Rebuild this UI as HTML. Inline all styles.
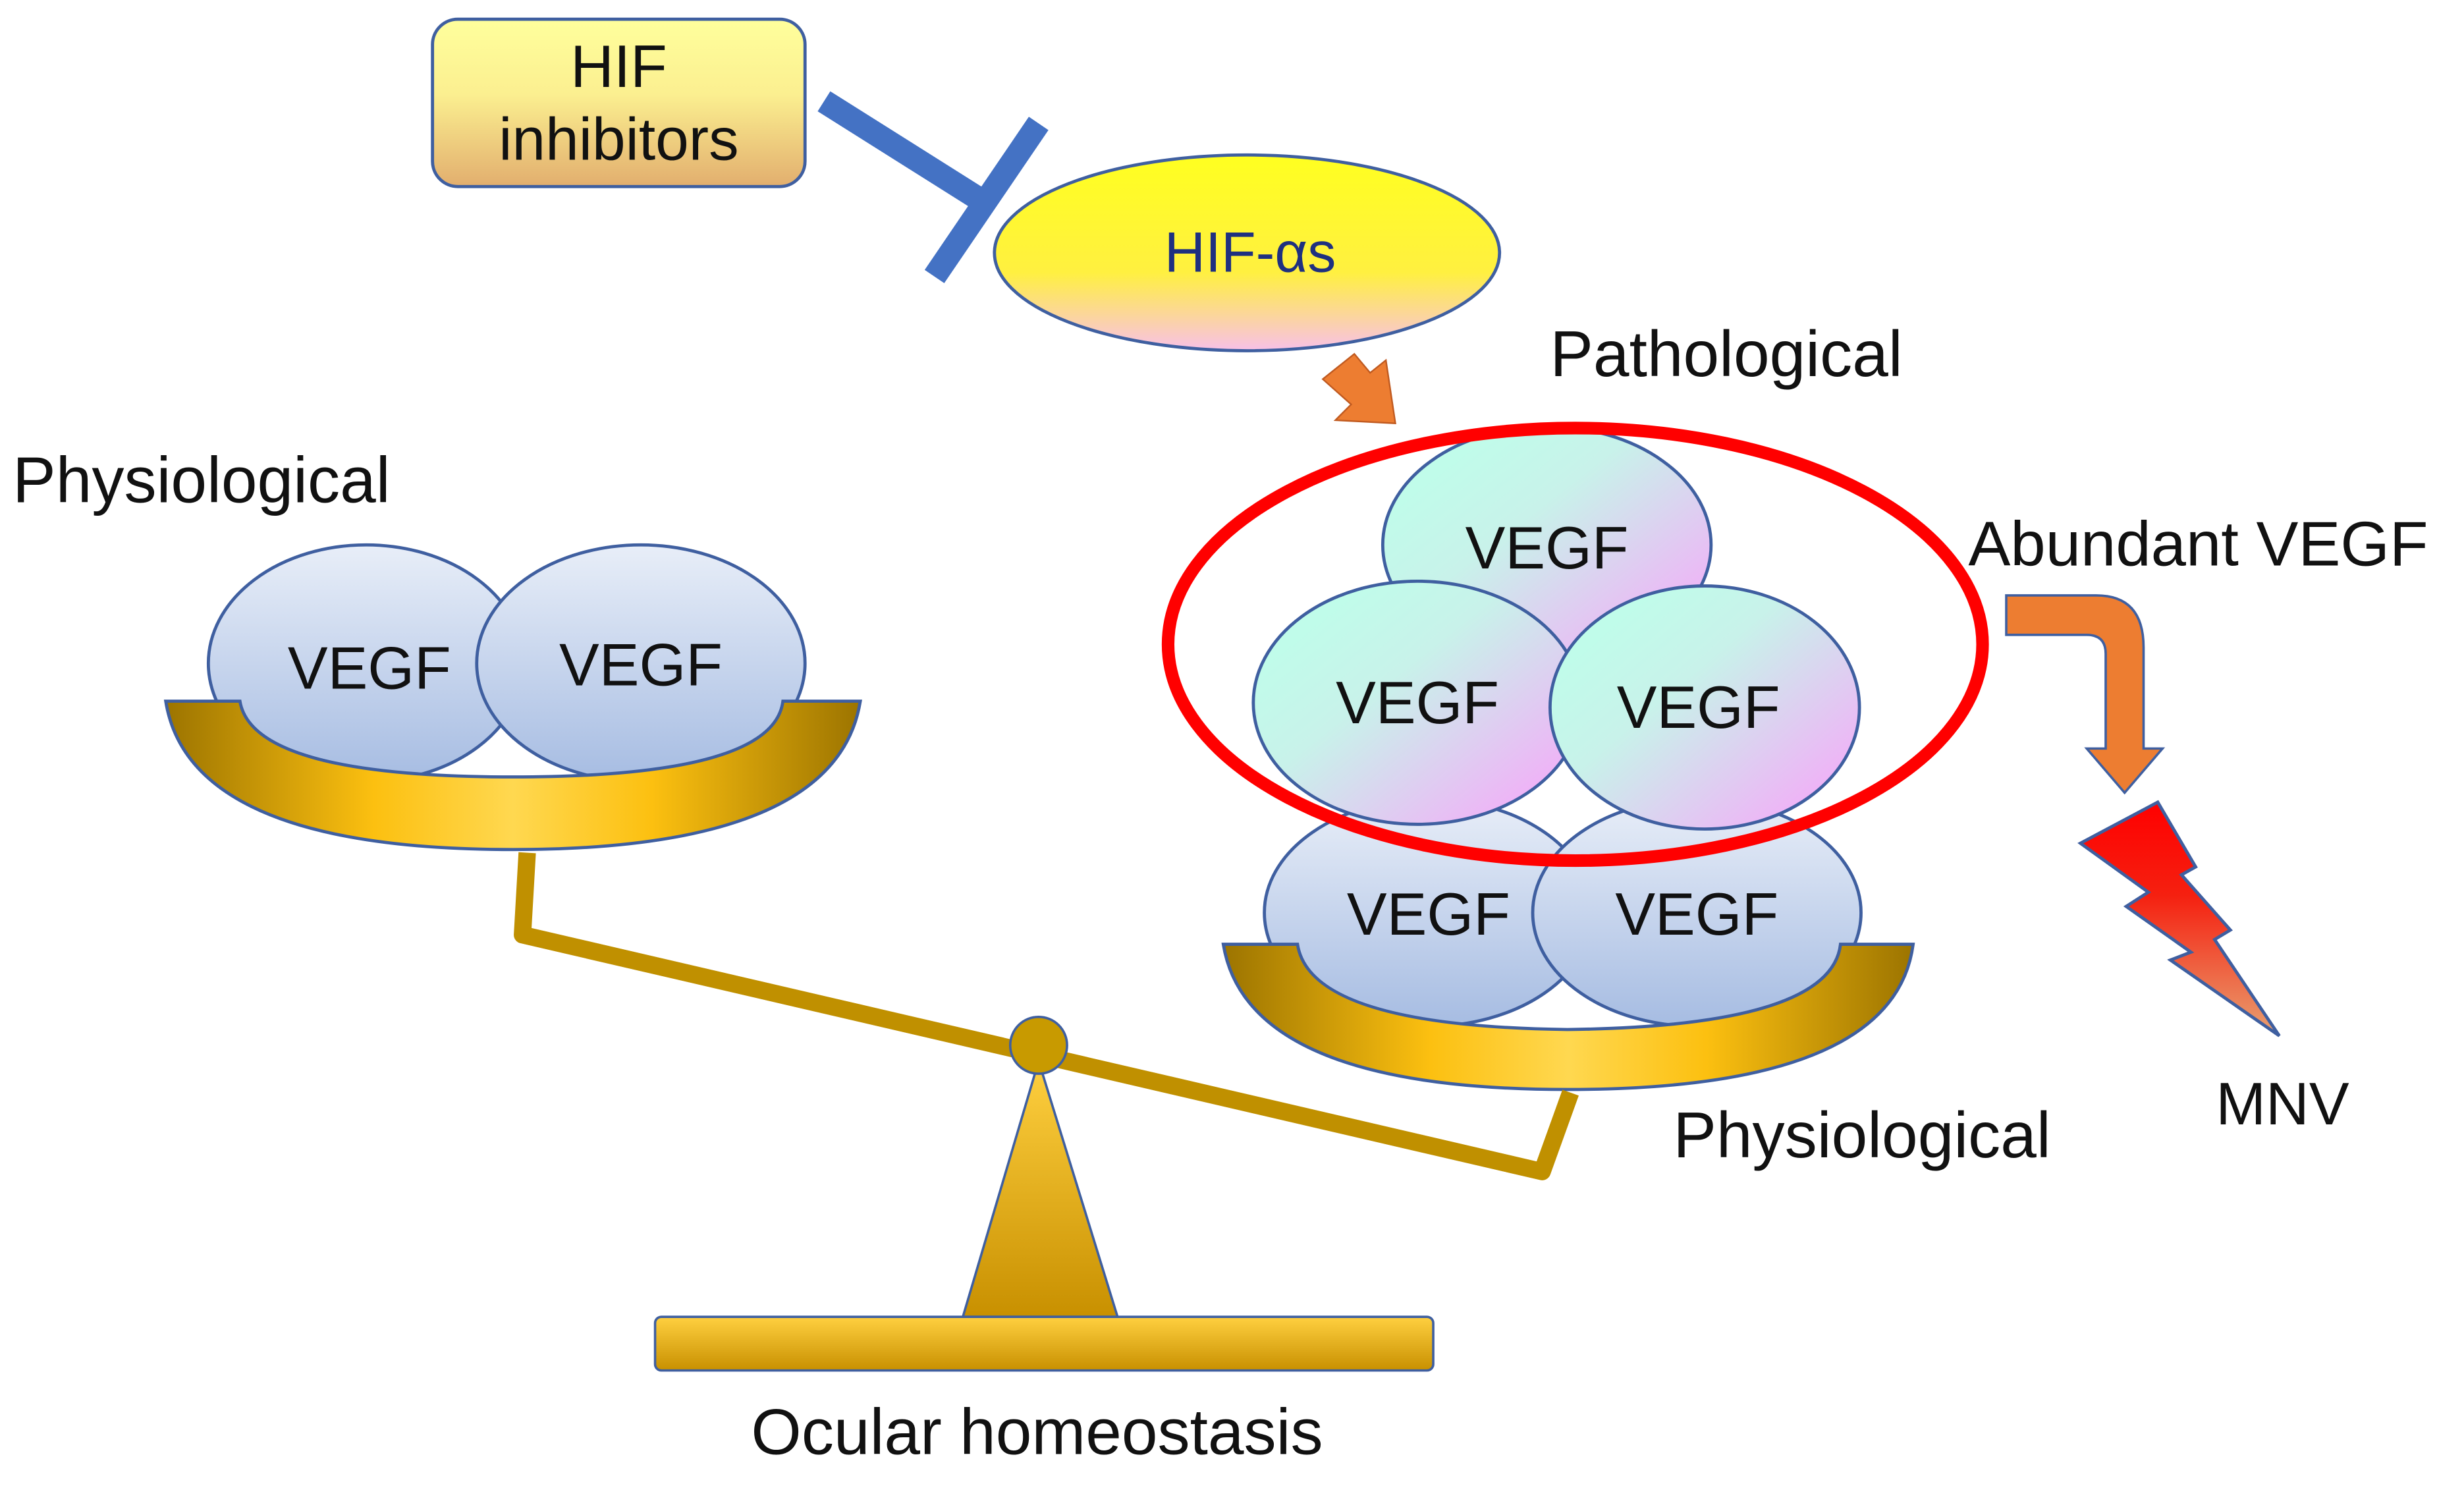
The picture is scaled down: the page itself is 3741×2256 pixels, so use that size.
<!DOCTYPE html>
<html><head><meta charset="utf-8"><style>
html,body{margin:0;padding:0;background:#fff}
svg{display:block}
text{font-family:"Liberation Sans",Arial,sans-serif}
</style></head><body>
<svg width="3741" height="2256" viewBox="0 0 1561 941" xmlns="http://www.w3.org/2000/svg">
<defs>
<linearGradient id="hifbox" x1="0" y1="0" x2="0" y2="1"><stop offset="0" stop-color="#ffff9c"/><stop offset="0.45" stop-color="#fbef90"/><stop offset="1" stop-color="#e2ae6e"/></linearGradient>
<linearGradient id="hifa" x1="0" y1="0" x2="0" y2="1"><stop offset="0" stop-color="#ffff20"/><stop offset="0.6" stop-color="#fff040"/><stop offset="1" stop-color="#f8c0e8"/></linearGradient>
<linearGradient id="patho" x1="0.15" y1="0.2" x2="0.85" y2="0.85"><stop offset="0" stop-color="#c0fcea"/><stop offset="0.35" stop-color="#c8f2ea"/><stop offset="1" stop-color="#eeb4f6"/></linearGradient>
<linearGradient id="phys" x1="0" y1="0" x2="0" y2="1"><stop offset="0" stop-color="#e8eef8"/><stop offset="1" stop-color="#a6bce2"/></linearGradient>
<linearGradient id="gold" x1="0" y1="0" x2="1" y2="0"><stop offset="0" stop-color="#9c7400"/><stop offset="0.3" stop-color="#fcc010"/><stop offset="0.5" stop-color="#ffd850"/><stop offset="0.7" stop-color="#fcc010"/><stop offset="1" stop-color="#9c7400"/></linearGradient>
<linearGradient id="goldv" x1="0" y1="0" x2="0" y2="1"><stop offset="0" stop-color="#ffd040"/><stop offset="1" stop-color="#c89000"/></linearGradient>
<linearGradient id="bolt" x1="0" y1="0" x2="0" y2="1"><stop offset="0" stop-color="#ff0000"/><stop offset="0.4" stop-color="#f52010"/><stop offset="1" stop-color="#e8a070"/></linearGradient>
</defs>

<rect x="274" y="12" width="236" height="106" rx="16" fill="url(#hifbox)" stroke="#3f5fa0" stroke-width="2"/>
<text x="392" y="55" font-size="38" text-anchor="middle" fill="#111">HIF</text>
<text x="392" y="101" font-size="38" text-anchor="middle" fill="#111">inhibitors</text>
<line x1="522" y1="64" x2="622" y2="127" stroke="#4472c4" stroke-width="15"/>
<line x1="592" y1="175" x2="658" y2="78" stroke="#4472c4" stroke-width="15"/>

<ellipse cx="790" cy="160" rx="160" ry="62" fill="url(#hifa)" stroke="#3f5fa0" stroke-width="2"/>
<text x="792" y="172" font-size="36" text-anchor="middle" fill="#1f3080">HIF-αs</text>

<polygon points="838,240 858,224 868,236 878,228 884,268 846,266 856,256" fill="#ed7d31" stroke="#c05a20" stroke-width="1"/>

<text x="982" y="238" font-size="41" fill="#111">Pathological</text>

<ellipse cx="905" cy="578" rx="104" ry="72" fill="url(#phys)" stroke="#3f5fa0" stroke-width="2"/>
<ellipse cx="1075" cy="578" rx="104" ry="72" fill="url(#phys)" stroke="#3f5fa0" stroke-width="2"/>
<text x="905" y="592" font-size="38" text-anchor="middle" fill="#111">VEGF</text>
<text x="1075" y="592" font-size="38" text-anchor="middle" fill="#111">VEGF</text>

<ellipse cx="980" cy="345" rx="104" ry="75" fill="url(#patho)" stroke="#3f5fa0" stroke-width="2"/>
<text x="980" y="360" font-size="38" text-anchor="middle" fill="#111">VEGF</text>
<ellipse cx="898" cy="445" rx="104" ry="77" fill="url(#patho)" stroke="#3f5fa0" stroke-width="2"/>
<ellipse cx="1080" cy="448" rx="98" ry="77" fill="url(#patho)" stroke="#3f5fa0" stroke-width="2"/>
<text x="898" y="458" font-size="38" text-anchor="middle" fill="#111">VEGF</text>
<text x="1076" y="461" font-size="38" text-anchor="middle" fill="#111">VEGF</text>

<ellipse cx="998" cy="408" rx="258" ry="137" fill="none" stroke="#ff0000" stroke-width="8"/>

<path d="M775,598 L822,598 Q830,650 993,652 Q1160,650 1166,598 L1212,598 Q1200,690 993,690 Q790,690 775,598 Z" fill="url(#gold)" stroke="#3f5fa0" stroke-width="2"/>

<ellipse cx="232" cy="420" rx="100" ry="75" fill="url(#phys)" stroke="#3f5fa0" stroke-width="2"/>
<ellipse cx="406" cy="420" rx="104" ry="75" fill="url(#phys)" stroke="#3f5fa0" stroke-width="2"/>
<text x="234" y="436" font-size="38" text-anchor="middle" fill="#111">VEGF</text>
<text x="406" y="434" font-size="38" text-anchor="middle" fill="#111">VEGF</text>
<path d="M105,444 L152,444 Q160,492 325,492 Q490,492 496,444 L545,444 Q530,538 325,538 Q120,538 105,444 Z" fill="url(#gold)" stroke="#3f5fa0" stroke-width="2"/>

<text x="8" y="318" font-size="41" fill="#111">Physiological</text>

<polyline points="334,540 331,592 977,742 995,692" fill="none" stroke="#c09000" stroke-width="11" stroke-linejoin="round"/>

<polygon points="658,672 610,834 708,834" fill="url(#goldv)" stroke="#3f5fa0" stroke-width="1.5"/>
<circle cx="658" cy="662" r="18" fill="#c89a00" stroke="#3f5fa0" stroke-width="1.5"/>
<rect x="415" y="834" width="493" height="34" rx="4" fill="url(#goldv)" stroke="#3f5fa0" stroke-width="1.5"/>

<text x="657" y="921" font-size="41" text-anchor="middle" fill="#111">Ocular homeostasis</text>
<text x="1060" y="733" font-size="41" fill="#111">Physiological</text>
<text x="1247" y="358" font-size="40" fill="#111">Abundant VEGF</text>

<path d="M1271,377 L1328,377 Q1358,377 1358,410 L1358,474 L1370,474 L1346,502 L1322,474 L1334,474 L1334,414 Q1334,402 1322,402 L1271,402 Z" fill="#ed7d31" stroke="#3f5fa0" stroke-width="1.5"/>

<polygon points="1367,508 1391,549 1382,554 1413,589 1403,595 1444,656 1375,608 1388,603 1347,574 1361,565 1318,534" fill="url(#bolt)" stroke="#3f5fa0" stroke-width="2"/>

<text x="1446" y="712" font-size="38" text-anchor="middle" fill="#111">MNV</text>
</svg>
</body></html>
